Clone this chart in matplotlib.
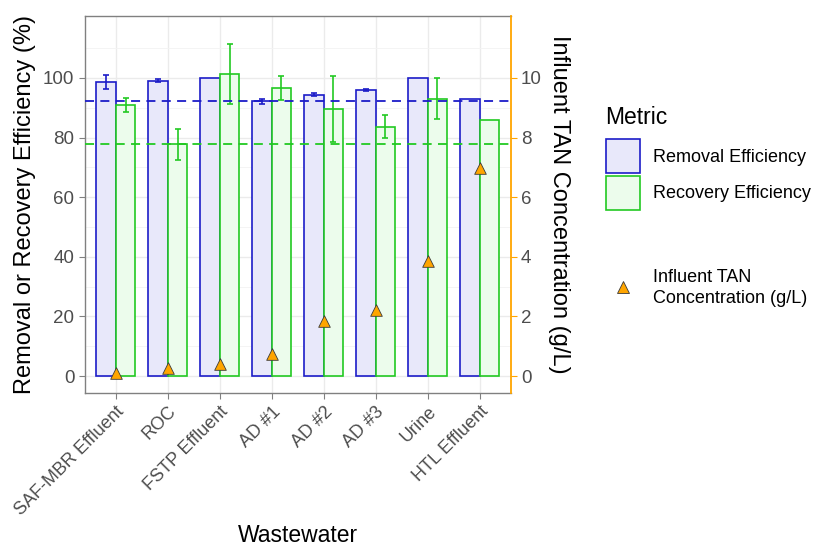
import matplotlib
matplotlib.use('Agg')
import matplotlib.pyplot as plt
from matplotlib.patches import Rectangle
from matplotlib.lines import Line2D
import numpy as np

plt.rcParams['font.family'] = ['Liberation Sans', 'DejaVu Sans']

# dane
wastewaters = ['SAF-MBR Effluent', 'ROC', 'FSTP Effluent', 'AD #1', 'AD #2',
               'AD #3', 'Urine', 'HTL Effluent']
removal = [98.6, 99.1, 100.0, 92.1, 94.4, 95.9, 100.0, 93.0]
removal_err = [2.3, 0.5, np.nan, 0.8, 0.6, 0.4, np.nan, np.nan]
recovery = [90.8, 77.8, 101.4, 96.6, 89.6, 83.6, 93.0, 86.0]
recovery_err = [2.4, 5.2, 10.0, 4.1, 11.0, 3.8, 6.8, np.nan]
tan_conc = [0.10, 0.27, 0.40, 0.73, 1.86, 2.23, 3.86, 6.98]
mean_removal = 92.1
mean_recovery = 77.8

blue_edge = '#1c1cc8'
blue_fill = '#e8e8fa'
green_edge = '#22c922'
green_fill = '#ecfcec'
orange = '#FFA500'
grey_txt = '#4d4d4d'
axis_grey = '#808080'

W, H = 813, 550
fig = plt.figure(figsize=(W / 100, H / 100), dpi=100)
L, R, T, B = 84.7, 510.7, 16, 393.3
ax = fig.add_axes([L / W, 1 - B / H, (R - L) / W, (B - T) / H])

x = np.arange(len(wastewaters))
bw = 0.375

ax.bar(x - bw / 2, removal, width=bw, color=blue_fill, edgecolor=blue_edge, linewidth=1.2, zorder=2)
ax.bar(x + bw / 2, recovery, width=bw, color=green_fill, edgecolor=green_edge, linewidth=1.2, zorder=2)
ax.errorbar(x - bw / 2, removal, yerr=removal_err, fmt='none', ecolor=blue_edge,
            elinewidth=1.2, capsize=2.5, capthick=1.2, zorder=3)
ax.errorbar(x + bw / 2, recovery, yerr=recovery_err, fmt='none', ecolor=green_edge,
            elinewidth=1.2, capsize=2.5, capthick=1.2, zorder=3)

ax.axhline(mean_removal, color=blue_edge, lw=1.3, ls=(0, (5, 3.5)), zorder=4)
ax.axhline(mean_recovery, color=green_edge, lw=1.3, ls=(0, (5, 3.5)), zorder=4)

ax.set_xlim(-0.6, len(wastewaters) - 0.4)
ax.set_ylim(-5.75, 120.75)
ax.set_yticks([0, 20, 40, 60, 80, 100])
ax.set_yticks([10, 30, 50, 70, 90, 110], minor=True)
ax.set_xticks(x)
ax.set_xticklabels(wastewaters, rotation=45, ha='right', rotation_mode='anchor',
                   fontsize=13, color=grey_txt)
ax.tick_params(axis='y', labelsize=13.5, labelcolor=grey_txt, color=axis_grey, length=4)
ax.tick_params(axis='y', which='minor', length=0)
ax.tick_params(axis='x', color=axis_grey, length=4, pad=3)
ax.grid(which='major', color='#ebebeb', lw=1.0, zorder=0)
ax.grid(which='minor', axis='y', color='#f3f3f3', lw=0.6, zorder=0)
ax.set_axisbelow(True)
for s in ['left', 'top', 'bottom']:
    ax.spines[s].set_color(axis_grey)
    ax.spines[s].set_linewidth(1.0)
ax.spines['right'].set_visible(False)

ax.set_ylabel('Removal or Recovery Efficiency (%)', fontsize=17, labelpad=5)
ax.set_xlabel('Wastewater', fontsize=16.5, va='center')
ax.xaxis.set_label_coords(0.5, (14 - (H - B)) / (B - T))

# druga oś - stężenie TAN
ax2 = ax.twinx()
ax2.set_ylim(-0.575, 12.075)
ax2.scatter(x, tan_conc, marker='^', s=70, color=orange, edgecolor='#3a3a3a',
            linewidth=0.6, zorder=5)
ax2.set_yticks([0, 2, 4, 6, 8, 10])
ax2.tick_params(axis='y', labelsize=13.5, labelcolor=grey_txt, color=orange, length=4)
ax2.spines['right'].set_color(orange)
ax2.spines['right'].set_linewidth(1.3)
for s in ['left', 'top', 'bottom']:
    ax2.spines[s].set_visible(False)
ax2.set_ylabel('Influent TAN Concentration (g/L)', fontsize=17, rotation=-90,
               labelpad=20)

# legenda (rysowana ręcznie)
def fx(px):
    return px / W

def fy(py):
    return 1 - py / H

fig.text(fx(605), fy(118), 'Metric', fontsize=16.5, va='center', ha='left')
fig.patches.append(Rectangle((fx(606), fy(173)), fx(34), 34 / H, transform=fig.transFigure,
                             facecolor=blue_fill, edgecolor=blue_edge, lw=1.2))
fig.patches.append(Rectangle((fx(606), fy(210)), fx(34), 34 / H, transform=fig.transFigure,
                             facecolor=green_fill, edgecolor=green_edge, lw=1.2))
fig.text(fx(653), fy(157), 'Removal Efficiency', fontsize=13, va='center', ha='left')
fig.text(fx(653), fy(194), 'Recovery Efficiency', fontsize=13, va='center', ha='left')
fig.lines.append(Line2D([fx(623)], [fy(287)], transform=fig.transFigure, marker='^',
                        markersize=8, markerfacecolor=orange, markeredgecolor='#3a3a3a',
                        markeredgewidth=0.6, linestyle='none'))
fig.text(fx(653), fy(288), 'Influent TAN\nConcentration (g/L)', fontsize=13,
         va='center', ha='left', linespacing=1.25)

fig.savefig('out.png', dpi=100)
plt.close(fig)
